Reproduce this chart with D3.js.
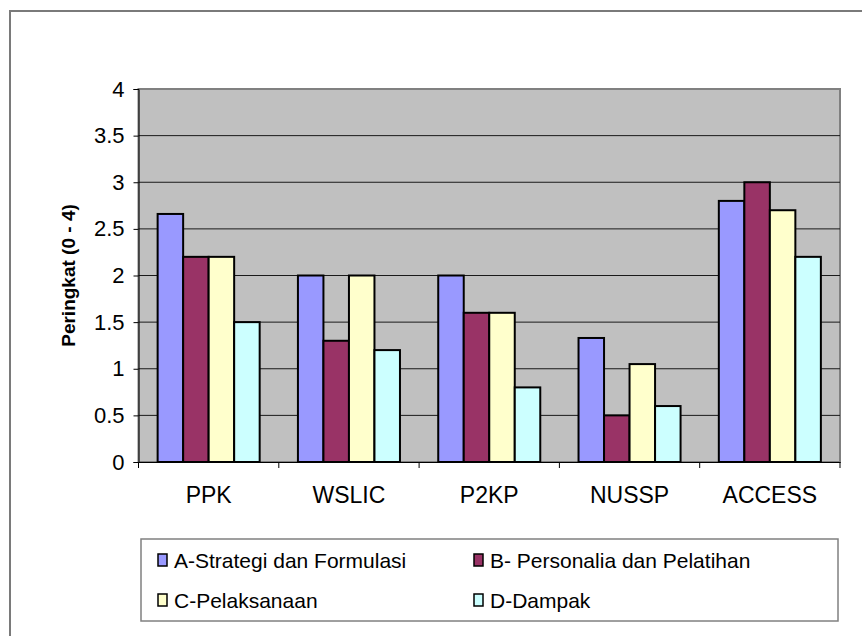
<!DOCTYPE html>
<html lang="id">
<head>
    <meta charset="utf-8">
    <title>Peringkat</title>
    <script type="text/javascript" src="https://d3js.org/d3.v7.min.js"></script>
    <style>
        body { margin: 0; background: #fff; }
        svg { display: block; font-family: "Liberation Sans", Arial, sans-serif; }
    </style>
</head>
<body>
    <script type="text/javascript">

        // data
        var categories = ["PPK", "WSLIC", "P2KP", "NUSSP", "ACCESS"];
        var seriesNames = ["A-Strategi dan Formulasi", "B- Personalia dan Pelatihan", "C-Pelaksanaan", "D-Dampak"];
        var seriesA = [2.66, 2.0, 2.0, 1.33, 2.8];
        var seriesB = [2.2, 1.3, 1.6, 0.5, 3.0];
        var seriesC = [2.2, 2.0, 1.6, 1.05, 2.7];
        var seriesD = [1.5, 1.2, 0.8, 0.6, 2.2];
        var yTicks = [0, 0.5, 1, 1.5, 2, 2.5, 3, 3.5, 4];
        var colors = ["#9999ff", "#993366", "#ffffcc", "#ccffff"];

        var allSeries = [seriesA, seriesB, seriesC, seriesD];

        var width = 862, height = 636;
        var plot = { left: 138.5, right: 840, top: 89, bottom: 462 };

        var svg = d3.select("body")
            .append("svg")
            .attr("width", width)
            .attr("height", height);

        // outer chart frame (runs off the right and bottom edges)
        svg.append("rect")
            .attr("x", 10)
            .attr("y", 11)
            .attr("width", 900)
            .attr("height", 700)
            .attr("fill", "#fff")
            .attr("stroke", "#7a7a7a")
            .attr("stroke-width", 2);

        var x0 = d3.scaleBand()
            .domain(categories)
            .range([plot.left, plot.right])
            .padding(0);

        var x1 = d3.scaleBand()
            .domain(d3.range(seriesNames.length))
            .range([0, x0.bandwidth()])
            .paddingInner(0)
            .paddingOuter(0.75);

        var y = d3.scaleLinear()
            .domain([0, 4])
            .range([plot.bottom, plot.top]);

        // plot area
        svg.append("rect")
            .attr("x", plot.left)
            .attr("y", plot.top)
            .attr("width", plot.right - plot.left)
            .attr("height", plot.bottom - plot.top)
            .attr("fill", "#c0c0c0")
            .attr("stroke", "#808080")
            .attr("stroke-width", 2);

        // gridlines
        svg.append("g")
            .selectAll("line")
            .data(yTicks.filter(function (d) { return d > 0 && d < 4; }))
            .enter()
            .append("line")
            .attr("x1", plot.left)
            .attr("x2", plot.right)
            .attr("y1", function (d) { return y(d); })
            .attr("y2", function (d) { return y(d); })
            .attr("stroke", "#1a1a1a")
            .attr("stroke-width", 1);

        // bars
        var group = svg.append("g")
            .selectAll("g")
            .data(categories)
            .enter()
            .append("g")
            .attr("transform", function (d) {
                return "translate(" + x0(d) + ",0)";
            });

        group.selectAll("rect")
            .data(function (d, i) {
                return allSeries.map(function (s, k) { return { k: k, v: s[i] }; });
            })
            .enter()
            .append("rect")
            .attr("x", function (d) { return x1(d.k); })
            .attr("y", function (d) { return y(d.v); })
            .attr("width", x1.bandwidth())
            .attr("height", function (d) { return y(0) - y(d.v); })
            .attr("fill", function (d) { return colors[d.k]; })
            .attr("stroke", "#000")
            .attr("stroke-width", 2);

        // y axis
        var yAxis = d3.axisLeft(y)
            .tickValues(yTicks)
            .tickSize(5)
            .tickPadding(9)
            .tickFormat(function (d) { return d; });

        var gy = svg.append("g")
            .attr("transform", "translate(" + plot.left + ",0)")
            .call(yAxis);
        gy.select(".domain").attr("stroke", "#000");
        gy.selectAll(".tick line").attr("stroke", "#000");
        gy.selectAll(".tick text")
            .attr("font-size", 22)
            .attr("font-family", "'Liberation Sans', Arial, sans-serif")
            .attr("fill", "#000");

        // x axis
        var xAxis = d3.axisBottom(x0)
            .tickSize(0)
            .tickPadding(25);

        var gx = svg.append("g")
            .attr("transform", "translate(0," + plot.bottom + ")")
            .call(xAxis);
        gx.select(".domain").attr("stroke", "#000");
        gx.selectAll(".tick text")
            .attr("font-size", 23)
            .attr("font-family", "'Liberation Sans', Arial, sans-serif")
            .attr("fill", "#000");

        // category separator ticks
        gx.selectAll(".sep")
            .data(categories.concat(["end"]))
            .enter()
            .append("line")
            .attr("class", "sep")
            .attr("x1", function (d, i) { return plot.left + i * x0.step(); })
            .attr("x2", function (d, i) { return plot.left + i * x0.step(); })
            .attr("y1", 0)
            .attr("y2", 6)
            .attr("stroke", "#000");

        // y axis title
        svg.append("text")
            .attr("transform", "translate(75," + y(2) + ") rotate(-90)")
            .attr("text-anchor", "middle")
            .attr("font-size", 19)
            .attr("font-weight", "bold")
            .text("Peringkat (0 - 4)");

        // legend
        var legend = svg.append("g");
        legend.append("rect")
            .attr("x", 141)
            .attr("y", 539)
            .attr("width", 697)
            .attr("height", 82)
            .attr("fill", "#fff")
            .attr("stroke", "#808080")
            .attr("stroke-width", 1.5);

        var item = legend.selectAll(".item")
            .data(seriesNames)
            .enter()
            .append("g")
            .attr("class", "item")
            .attr("transform", function (d, i) {
                return "translate(" + (i % 2 === 0 ? 158 : 474) + "," + (i < 2 ? 560 : 600) + ")";
            });

        item.append("rect")
            .attr("x", 0)
            .attr("y", -6)
            .attr("width", 9)
            .attr("height", 12)
            .attr("fill", function (d, i) { return colors[i]; })
            .attr("stroke", "#000")
            .attr("stroke-width", 1.5);

        item.append("text")
            .attr("x", 16)
            .attr("dy", "0.36em")
            .attr("font-size", 21)
            .text(function (d) { return d; });

    </script>
</body>
</html>
